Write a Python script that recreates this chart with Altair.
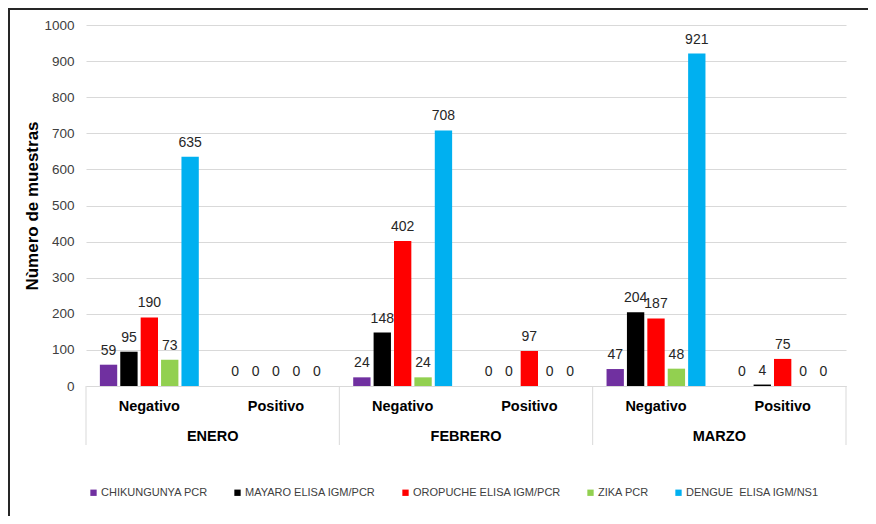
import altair as alt
import pandas as pd

meses = ["ENERO", "FEBRERO", "MARZO"]
resultados = ["Negativo", "Positivo"]
enfermedades = [
    "CHIKUNGUNYA PCR",
    "MAYARO ELISA IGM/PCR",
    "OROPUCHE ELISA IGM/PCR",
    "ZIKA PCR",
    "DENGUE \u00a0ELISA IGM/NS1",
]
colores = ["#7030A0", "#000000", "#FF0000", "#92D050", "#00B0F0"]

# order: ENERO Neg, ENERO Pos, FEBRERO Neg, FEBRERO Pos, MARZO Neg, MARZO Pos
chik = [59, 0, 24, 0, 47, 0]
mayaro = [95, 0, 148, 0, 204, 4]
oropuche = [190, 0, 402, 97, 187, 75]
zika = [73, 0, 24, 0, 48, 0]
dengue = [635, 0, 708, 0, 921, 0]
series = [chik, mayaro, oropuche, zika, dengue]

cats = [f"{m}|{r}" for m in meses for r in resultados]
rows = []
for enf, vals in zip(enfermedades, series):
    for c, v in zip(cats, vals):
        m, r = c.split("|")
        rows.append({"cat": c, "mes": m, "resultado": r, "enfermedad": enf, "valor": v})
df = pd.DataFrame(rows)

W, H = 760, 361

xscale = alt.Scale(domain=cats, paddingInner=0, paddingOuter=0)
xaxis = alt.Axis(
    title=None,
    labelExpr="split(datum.label, '|')[1]",
    labelAngle=0,
    ticks=False,
    domainColor="#d9d9d9",
    labelFont="Liberation Sans",
    labelFontSize=14.5,
    labelFontWeight="bold",
    labelColor="#000000",
    labelPadding=20,
    labelBaseline="middle",
)
yaxis = alt.Axis(
    title="Nùmero de muestras",
    values=list(range(0, 1001, 100)),
    format="d",
    domain=False,
    ticks=False,
    gridColor="#d9d9d9",
    labelFont="Liberation Sans",
    labelFontSize=13.5,
    labelColor="#404040",
    labelPadding=12,
    titleFont="Liberation Sans",
    titleFontSize=17,
    titleFontWeight="bold",
    titleColor="#000000",
    titlePadding=2,
)

base = alt.Chart(df).encode(
    x=alt.X("cat:N", scale=xscale, axis=xaxis),
    xOffset=alt.XOffset(
        "enfermedad:N",
        sort=enfermedades,
        scale=alt.Scale(domain=enfermedades, paddingInner=0.15, paddingOuter=0.68),
    ),
    y=alt.Y("valor:Q", scale=alt.Scale(domain=[0, 1000], nice=False), axis=yaxis),
)

bars = base.mark_bar().encode(
    color=alt.Color(
        "enfermedad:N",
        sort=enfermedades,
        scale=alt.Scale(domain=enfermedades, range=colores),
        legend=alt.Legend(
            title=None,
            orient="none",
            legendX=2,
            legendY=462,
            direction="horizontal",
            symbolType="square",
            symbolSize=40,
            symbolStrokeWidth=0,
            labelFont="Liberation Sans",
            labelFontSize=11,
            labelColor="#404040",
            labelLimit=0,
            columnPadding=24,
            labelOffset=2,
        ),
    )
)

labels = base.mark_text(
    font="Liberation Sans", fontSize=14, color="#262626", baseline="bottom", dy=-7
).encode(text=alt.Text("valor:Q"))

mes_df = pd.DataFrame({"cat": [f"{m}|Negativo" for m in meses], "mes": meses})
mes_labels = alt.Chart(mes_df).mark_text(
    font="Liberation Sans", fontSize=14.5, fontWeight="bold", color="#000000", baseline="middle"
).encode(
    x=alt.X("cat:N", scale=xscale, bandPosition=1),
    y=alt.value(H + 51),
    text="mes:N",
)

sep_df = pd.DataFrame({"cat": [f"{m}|Negativo" for m in meses]})
sep_left = alt.Chart(sep_df).mark_rule(color="#d9d9d9", strokeWidth=1).encode(
    x=alt.X("cat:N", scale=xscale, bandPosition=0),
    y=alt.value(H),
    y2=alt.value(H + 59),
)
end_df = pd.DataFrame({"cat": [cats[-1]]})
sep_right = alt.Chart(end_df).mark_rule(color="#d9d9d9", strokeWidth=1).encode(
    x=alt.X("cat:N", scale=xscale, bandPosition=1),
    y=alt.value(H),
    y2=alt.value(H + 59),
)

frame_df = pd.DataFrame({"f": [0]})
frame = alt.Chart(frame_df).mark_rect(filled=False, stroke="#262626", strokeWidth=2).encode(
    x=alt.value(-77),
    x2=alt.value(W + 60),
    y=alt.value(-16),
    y2=alt.value(H + 160),
)

chart = (
    alt.layer(frame, bars, labels, sep_left, sep_right, mes_labels)
    .properties(
        width=W,
        height=H,
        autosize=alt.AutoSizeParams(type="none"),
        padding={"left": 78, "top": 17, "right": 22, "bottom": 130},
        background="white",
    )
    .configure_view(strokeWidth=0)
)

chart.save("out.html", embed_options={"renderer": "svg", "actions": False})
